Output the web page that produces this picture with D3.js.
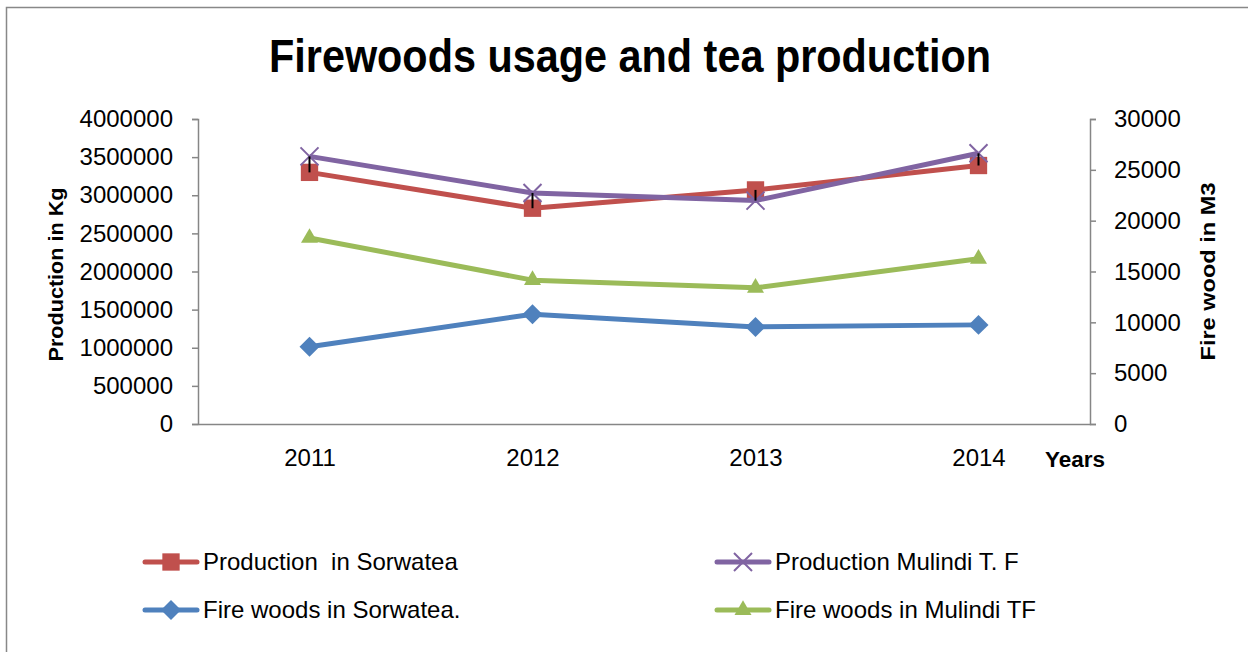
<!DOCTYPE html>
<html>
<head>
<meta charset="utf-8">
<script src="https://cdn.jsdelivr.net/npm/d3@7"></script>
<style>
  body { margin: 0; background: #fff; }
  text { font-family: "Liberation Sans Narrow", "Liberation Sans", Arial, sans-serif; fill: #000; }
</style>
</head>
<body>
<svg id="svg-chart"></svg>
<script>
var width = 1248,
    height = 652;

// data
var years = ['2011', '2012', '2013', '2014'];
var prodSorwatea = [3300000, 2830000, 3070000, 3390000];
var prodMulindi = [3510000, 3030000, 2930000, 3550000];
var fireSorwatea = [7600, 10800, 9550, 9750];
var fireMulindi = [18300, 14150, 13400, 16250];
var leftTicks = [0, 500000, 1000000, 1500000, 2000000, 2500000, 3000000, 3500000, 4000000];
var rightTicks = [0, 5000, 10000, 15000, 20000, 25000, 30000];

var series = [
  {name: 'Production  in Sorwatea', values: prodSorwatea, axis: 'left', color: '#C0504D', marker: 'square'},
  {name: 'Production Mulindi T. F', values: prodMulindi, axis: 'left', color: '#8064A2', marker: 'x'},
  {name: 'Fire woods in Sorwatea.', values: fireSorwatea, axis: 'right', color: '#4F81BD', marker: 'diamond'},
  {name: 'Fire woods in Mulindi TF', values: fireMulindi, axis: 'right', color: '#9BBB59', marker: 'triangle'}
];

var plot = {left: 198, right: 1090, top: 119, bottom: 424};

var x = d3.scalePoint().domain(years).range([plot.left, plot.right]).padding(0.5);
var yLeft = d3.scaleLinear().domain([0, 4000000]).range([plot.bottom, plot.top]);
var yRight = d3.scaleLinear().domain([0, 30000]).range([plot.bottom, plot.top]);

var svg = d3.select('#svg-chart')
  .attr('width', width)
  .attr('height', height);

// outer chart border
svg.append('rect')
  .attr('x', 6.5).attr('y', 7.5)
  .attr('width', 1260).attr('height', 660)
  .attr('fill', 'none')
  .attr('stroke', '#888')
  .attr('stroke-width', 1.5);

svg.append('text')
  .attr('x', 630).attr('y', 72)
  .attr('text-anchor', 'middle')
  .attr('font-size', 46)
  .attr('font-weight', 'bold')
  .attr('textLength', 722)
  .attr('lengthAdjust', 'spacingAndGlyphs')
  .text('Firewoods usage and tea production');

function styleAxis(g) {
  g.select('.domain').attr('stroke', '#868686').attr('stroke-width', 1.5);
  g.selectAll('.tick line').attr('stroke', '#868686').attr('stroke-width', 1.5);
  g.selectAll('.tick text').attr('font-size', 24).attr('fill', '#000')
    .style('font-family', '"Liberation Sans", Arial, sans-serif');
}

svg.append('g')
  .attr('transform', 'translate(' + plot.left + ',0)')
  .call(d3.axisLeft(yLeft).tickValues(leftTicks).tickFormat(d3.format('d')).tickSizeOuter(0).tickSize(6).tickPadding(19))
  .call(styleAxis);

svg.append('g')
  .attr('transform', 'translate(' + plot.right + ',0)')
  .call(d3.axisRight(yRight).tickValues(rightTicks).tickFormat(d3.format('d')).tickSizeOuter(0).tickSize(6).tickPadding(18))
  .call(styleAxis);

svg.append('g')
  .attr('transform', 'translate(0,' + plot.bottom + ')')
  .call(d3.axisBottom(x).tickSize(0).tickPadding(25))
  .call(styleAxis);

// axis titles
svg.append('text')
  .attr('transform', 'translate(63,' + ((plot.top + plot.bottom) / 2 + 3) + ') rotate(-90)')
  .attr('text-anchor', 'middle')
  .attr('font-size', 21)
  .attr('font-weight', 'bold')
  .attr('textLength', 174)
  .attr('lengthAdjust', 'spacingAndGlyphs')
  .text('Production in Kg');

svg.append('text')
  .attr('transform', 'translate(1215,' + ((plot.top + plot.bottom) / 2) + ') rotate(-90)')
  .attr('text-anchor', 'middle')
  .attr('font-size', 21)
  .attr('font-weight', 'bold')
  .attr('textLength', 178)
  .attr('lengthAdjust', 'spacingAndGlyphs')
  .text('Fire wood in M3');

svg.append('text')
  .attr('x', 1045).attr('y', 467)
  .attr('font-size', 22)
  .attr('font-weight', 'bold')
  .attr('textLength', 60)
  .attr('lengthAdjust', 'spacingAndGlyphs')
  .text('Years');

function markerPath(type) {
  var p = d3.path();
  if (type === 'x') {
    p.moveTo(-9, -9); p.lineTo(9, 9);
    p.moveTo(9, -9); p.lineTo(-9, 9);
    return p.toString();
  }
  if (type === 'square') return d3.symbol(d3.symbolSquare, 300)();
  if (type === 'diamond') return d3.symbol(d3.symbolSquare, 200)();
  if (type === 'triangle') return d3.symbol(d3.symbolTriangle, 125)();
}

function drawMarker(g, s, px, py) {
  var m = g.append('path')
    .attr('d', markerPath(s.marker))
    .attr('transform', 'translate(' + px + ',' + py + ')' + (s.marker === 'diamond' ? ' rotate(45)' : ''));
  if (s.marker === 'x') {
    m.attr('fill', 'none').attr('stroke', s.color).attr('stroke-width', 2);
  } else {
    m.attr('fill', s.color);
  }
}

var lines = svg.append('g').attr('class', 'series');

series.forEach(function(s) {
  var y = s.axis === 'left' ? yLeft : yRight;
  var line = d3.line()
    .x(function(d, i) { return x(years[i]); })
    .y(function(d) { return y(d); });
  var g = lines.append('g');
  g.append('path')
    .datum(s.values)
    .attr('d', line)
    .attr('fill', 'none')
    .attr('stroke', s.color)
    .attr('stroke-width', 5)
    .attr('stroke-linejoin', 'round');
  s.values.forEach(function(v, i) {
    drawMarker(g, s, x(years[i]), y(v));
  });
});

// small black bars between the two production series
svg.append('g')
  .selectAll('line')
  .data(years)
  .enter().append('line')
  .attr('x1', function(d) { return x(d); })
  .attr('x2', function(d) { return x(d); })
  .attr('y1', function(d, i) { return yLeft(prodMulindi[i]); })
  .attr('y2', function(d, i) { return yLeft(prodSorwatea[i]); })
  .attr('stroke', '#000')
  .attr('stroke-width', 2);

// legend
var legendPos = [[143, 562], [715, 562], [143, 610], [715, 610]];
series.forEach(function(s, i) {
  var lx = legendPos[i][0], ly = legendPos[i][1];
  var g = svg.append('g').attr('class', 'legend');
  g.append('line')
    .attr('x1', lx + 2).attr('x2', lx + 54)
    .attr('y1', ly).attr('y2', ly)
    .attr('stroke', s.color)
    .attr('stroke-width', 5)
    .attr('stroke-linecap', 'round');
  drawMarker(g, s, lx + 28, ly);
  g.append('text')
    .attr('x', lx + 60).attr('y', ly + 8)
    .attr('font-size', 24)
    .style('white-space', 'pre')
    .style('font-family', '"Liberation Sans", Arial, sans-serif')
    .text(s.name);
});
</script>
</body>
</html>
